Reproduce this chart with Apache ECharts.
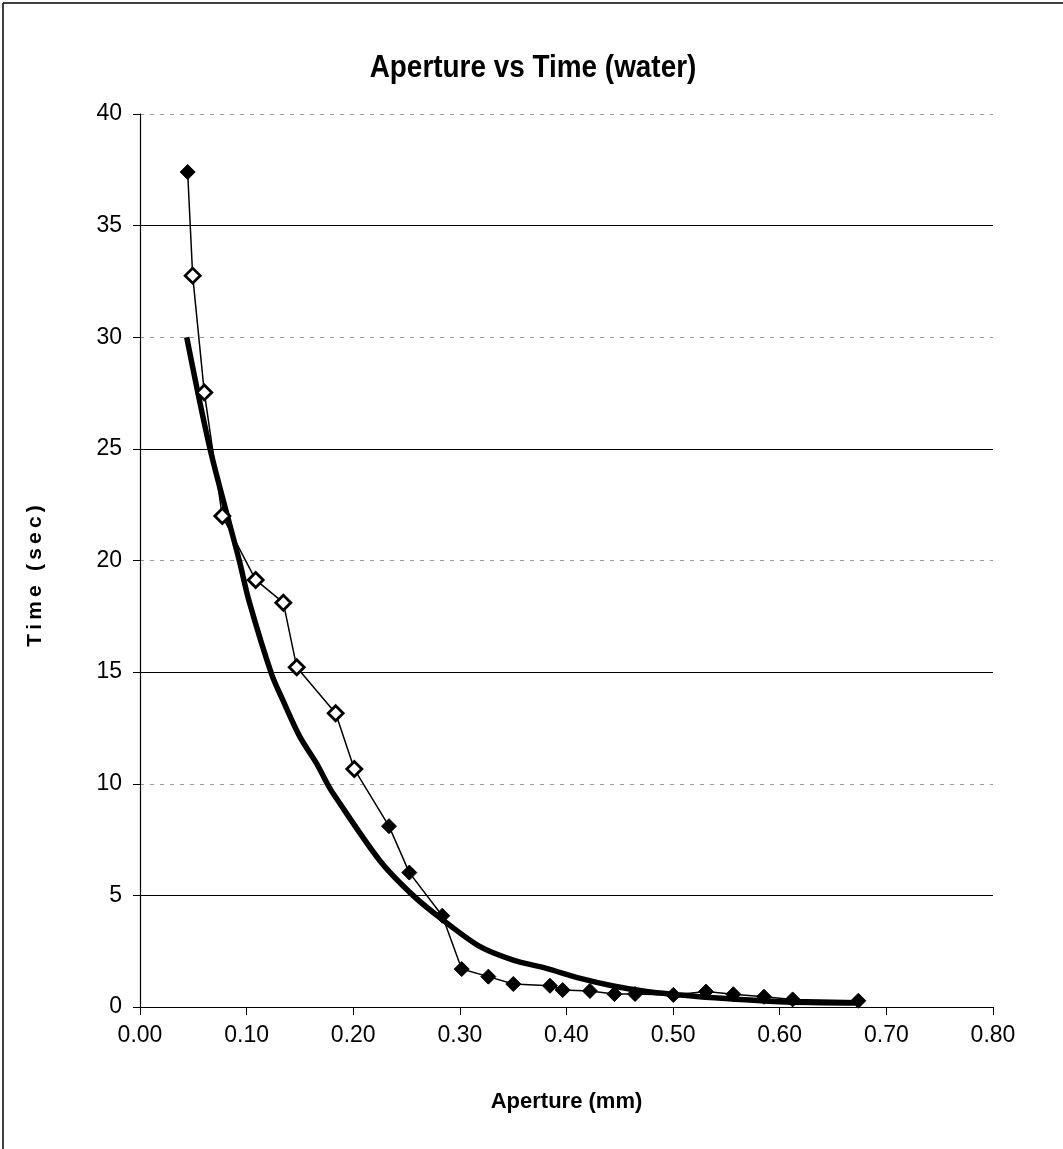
<!DOCTYPE html>
<html>
<head>
<meta charset="utf-8">
<script src="https://cdn.jsdelivr.net/npm/echarts@6/dist/echarts.min.js"></script>
<style>
  html, body { margin: 0; padding: 0; background: #fff; }
  #chart { width: 1063px; height: 1149px; }
</style>
</head>
<body>
<div id="chart"></div>
<script>
// measured points (aperture mm, time sec)
var apertureMeas = [0.0447, 0.0494, 0.0603, 0.0772, 0.1085, 0.1344, 0.147, 0.1835, 0.201, 0.2335,
  0.2526, 0.2835, 0.3017, 0.3267, 0.3501, 0.3845, 0.3964, 0.422, 0.4449, 0.4643,
  0.5002, 0.5308, 0.5565, 0.5852, 0.6121, 0.6737];
var timeMeas = [37.4, 32.76, 27.53, 21.99, 19.13, 18.11, 15.22, 13.16, 10.66, 8.1,
  6.02, 4.09, 1.70, 1.36, 1.03, 0.95, 0.76, 0.72, 0.58, 0.58,
  0.54, 0.69, 0.57, 0.46, 0.34, 0.28];

// fitted curve
var apertureFit = [0.0438, 0.0657, 0.0931, 0.1022, 0.1235, 0.1344, 0.150, 0.1657, 0.1757, 0.1813,
  0.225, 0.256, 0.284, 0.319, 0.350, 0.381, 0.413, 0.444, 0.475, 0.506, 0.525, 0.60, 0.673];
var timeFit = [30.0, 25.0, 20.0, 18.2, 14.9, 13.7, 12.1, 10.9, 10.0, 9.55,
  6.55, 5.0, 3.9, 2.7, 2.1, 1.73, 1.28, 0.94, 0.69, 0.54, 0.46, 0.24, 0.18];

var xTicks = [0, 0.8, 0.1];
var yTicks = [0, 40, 5];
var darkGridValues = [5, 15, 25, 35];

var hollowFrom = 1, hollowTo = 8; // scanned markers that print with white centres

var measData = apertureMeas.map(function (a, i) {
  var pt = { value: [a, timeMeas[i]] };
  if (i >= hollowFrom && i <= hollowTo) {
    pt.itemStyle = { color: '#fff', borderColor: '#000', borderWidth: 2.8 };
  }
  return pt;
});
var fitData = apertureFit.map(function (a, i) { return [a, timeFit[i]]; });

var chart = echarts.init(document.getElementById('chart'));
var font = "'Liberation Sans', Arial, sans-serif";
var ts = '\u2009';

chart.setOption({
  animation: false,
  backgroundColor: '#fff',
  graphic: [
    { type: 'line', shape: { x1: 3, y1: 3, x2: 1063, y2: 3 }, style: { stroke: '#000', lineWidth: 1.5 } },
    { type: 'line', shape: { x1: 3, y1: 3, x2: 3, y2: 1149 }, style: { stroke: '#000', lineWidth: 1.5 } },
    {
      type: 'text', x: 533, y: 68, scaleX: 0.9,
      style: { text: 'Aperture vs Time (water)', fill: '#000', align: 'center', verticalAlign: 'middle',
        font: "bold 31px 'Liberation Sans', Arial, sans-serif" }
    },
    {
      type: 'text', x: 35, y: 576, rotation: Math.PI / 2,
      style: { text: ['T', 'i', 'm', 'e', ' ', '(', 's', 'e', 'c', ')'].join(ts), fill: '#000',
        align: 'center', verticalAlign: 'middle',
        font: "bold 21px 'Liberation Sans', Arial, sans-serif" }
    }
  ],
  grid: { left: 140, right: 70, top: 114, bottom: 142 },
  xAxis: {
    type: 'value',
    min: xTicks[0], max: xTicks[1], interval: xTicks[2],
    name: 'Aperture (mm)',
    nameLocation: 'middle',
    nameGap: 84,
    nameTextStyle: { fontFamily: font, fontSize: 22, fontWeight: 'bold', color: '#000' },
    axisLine: { lineStyle: { color: '#000', width: 1.2 } },
    axisTick: { show: true, inside: false, length: 8, lineStyle: { color: '#000' } },
    axisLabel: { fontFamily: font, fontSize: 23, color: '#000', margin: 17,
      formatter: function (v) { return v.toFixed(2); } },
    splitLine: { show: false }
  },
  yAxis: {
    type: 'value',
    min: yTicks[0], max: yTicks[1], interval: yTicks[2],
    axisLine: { show: true, lineStyle: { color: '#000', width: 1.2 } },
    axisTick: { show: true, inside: false, length: 7, lineStyle: { color: '#000' } },
    axisLabel: { fontFamily: font, fontSize: 23, color: '#000', margin: 18 },
    splitLine: { show: true, lineStyle: { color: '#9a9a9a', width: 1, type: [4, 6] } }
  },
  series: [
    {
      type: 'line',
      data: fitData,
      smooth: 0.3,
      symbol: 'none',
      lineStyle: { color: '#000', width: 5.5 },
      z: 3
    },
    {
      type: 'line',
      data: measData,
      symbol: 'diamond',
      symbolSize: 15,
      itemStyle: { color: '#000', borderColor: '#000' },
      lineStyle: { color: '#000', width: 1.5 },
      z: 4,
      markLine: {
        silent: true,
        symbol: 'none',
        label: { show: false },
        lineStyle: { color: '#000', width: 1.2, type: 'solid' },
        data: darkGridValues.map(function (v) { return { yAxis: v }; }),
        z: 1
      }
    }
  ]
});
</script>
</body>
</html>
